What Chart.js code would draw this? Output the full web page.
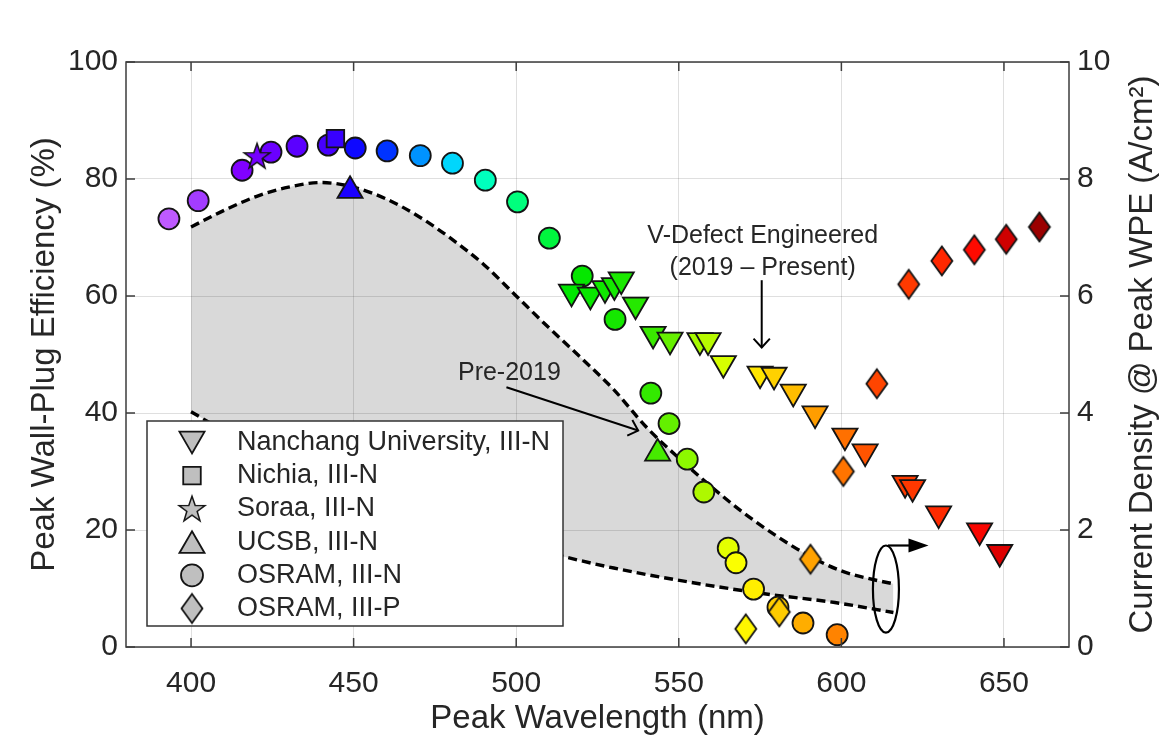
<!DOCTYPE html>
<html><head><meta charset="utf-8">
<script src="https://cdn.jsdelivr.net/npm/chart.js@4.4.1/dist/chart.umd.min.js"></script>
<style>html,body{margin:0;padding:0;background:#fff;}#wrap{width:1167px;height:736px;position:relative;}</style>
</head><body><div id="wrap"><canvas id="c"></canvas></div>
<script>
// ---------- data ----------
const xTicks = [400, 450, 500, 550, 600, 650];
const yLeftTicks = [0, 20, 40, 60, 80, 100];
const yRightTicks = [0, 2, 4, 6, 8, 10];

const seriesNames = ['Nanchang University, III-N', 'Nichia, III-N', 'Soraa, III-N', 'UCSB, III-N', 'OSRAM, III-N', 'OSRAM, III-P'];

const nanchangX = [517.0, 522.8, 527.3, 530.2, 532.3, 536.7, 542.1, 547.3, 556.5, 559.0, 563.7, 575.0, 579.3, 585.2, 591.9, 601.1, 607.3, 619.6, 621.9, 629.9, 642.5, 648.7];
const nanchangY = [60.7, 60.2, 61.3, 61.8, 62.8, 58.5, 53.5, 52.5, 52.4, 52.4, 48.5, 46.7, 46.5, 43.6, 39.9, 36.1, 33.4, 28.0, 27.3, 22.8, 19.9, 16.2];

const nichiaX = [444.4];
const nichiaY = [86.9];

const soraaX = [420.3];
const soraaY = [83.9];

const ucsbX = [448.9, 543.5];
const ucsbY = [78.0, 33.1];

const osramNX = [393.2, 402.2, 415.7, 424.6, 432.6, 442.2, 450.5, 460.3, 470.5, 480.4, 490.5, 500.4, 510.2, 520.3, 530.4, 541.4, 547.0, 552.6, 557.7, 565.2, 567.6, 573.0, 580.5, 588.2, 598.7];
const osramNY = [73.2, 76.3, 81.5, 84.6, 85.6, 85.8, 85.3, 84.8, 84.0, 82.7, 79.8, 76.1, 69.9, 63.4, 56.0, 43.4, 38.2, 32.1, 26.5, 16.9, 14.4, 9.9, 6.8, 4.1, 2.1];

const osramPX = [570.6, 580.9, 590.5, 600.6, 610.9, 620.7, 630.9, 640.9, 650.7, 660.9];
const osramPY = [3.1, 6.0, 15.0, 30.0, 45.0, 62.0, 66.0, 67.9, 69.7, 71.8];

// Pre-2019 band (left-axis units)
const upperX = [400, 410, 420, 430, 440, 450, 460, 470, 480, 490, 500, 510, 520, 530, 540, 550, 560, 570, 580, 590, 600, 610, 616];
const upperY = [71.8, 74.6, 77.0, 78.6, 79.4, 78.6, 76.6, 73.6, 69.8, 65.4, 60.0, 54.6, 49.4, 44.0, 37.6, 32.3, 27.4, 22.9, 19.0, 15.6, 13.0, 11.5, 10.8];
const lowerX = [400, 410, 420, 440, 460, 480, 500, 515, 530, 549, 575, 598, 616];
const lowerY = [40.2, 37.0, 34.0, 28.8, 24.5, 20.8, 17.6, 15.4, 13.5, 11.5, 9.2, 7.6, 5.9];

// annotations (data coordinates)
const ellipseCenter = [613.7, 9.9];
const ellipseRadii = [4.0, 7.45];
const ellipseArrowEndX = 626.8;
const vDefectText = ['V-Defect Engineered', '(2019 \u2013 Present)'];
const vDefectTextPos = [[575.8, 69.0], [575.8, 63.6]];
const vDefectArrow = [[575.5, 62.7], [575.5, 51.2]];
const preText = 'Pre-2019';
const preTextPos = [497.9, 45.6];
const preArrow = [[497.0, 44.4], [537.5, 37.0]];

// ---------- style ----------
const FONT = '"Liberation Sans", Arial, Helvetica, sans-serif';
const TXT = '#262626';
const AX = '#3d3d3d';
const EDGE = '#141414';
const LEGEND_FILL = '#bfbfbf';
const MBW = 1.8;

const colorStops = [
  [390, [200, 100, 255]], [402, [163, 61, 255]], [416, [128, 0, 255]], [425, [106, 0, 255]],
  [433, [90, 0, 255]], [442, [72, 0, 255]], [449, [26, 0, 255]], [451, [10, 10, 255]],
  [460, [0, 48, 255]], [470, [0, 144, 255]], [480, [0, 212, 255]], [490, [0, 255, 192]],
  [500, [0, 255, 128]], [510, [0, 245, 64]], [517, [0, 230, 0]], [530, [20, 232, 0]],
  [541, [48, 232, 0]], [547, [100, 240, 0]], [553, [144, 250, 0]], [558, [176, 248, 0]],
  [564, [216, 255, 0]], [568, [255, 255, 0]], [573, [255, 238, 0]], [579, [255, 210, 0]],
  [585, [255, 190, 0]], [590, [255, 164, 0]], [599, [255, 130, 0]], [601, [255, 112, 0]],
  [607, [255, 85, 0]], [611, [255, 69, 0]], [621, [255, 58, 0]], [631, [255, 40, 0]],
  [641, [255, 10, 0]], [645, [240, 0, 0]], [649, [221, 0, 0]], [651, [204, 0, 0]], [661, [153, 0, 0]]
];
function wlColor(w) {
  if (w <= colorStops[0][0]) return 'rgb(' + colorStops[0][1].join(',') + ')';
  for (let i = 1; i < colorStops.length; i++) {
    if (w <= colorStops[i][0]) {
      const [w0, c0] = colorStops[i - 1], [w1, c1] = colorStops[i];
      const t = (w - w0) / (w1 - w0);
      return 'rgb(' + c0.map((v, k) => Math.round(v + (c1[k] - v) * t)).join(',') + ')';
    }
  }
  return 'rgb(' + colorStops[colorStops.length - 1][1].join(',') + ')';
}

const imgCache = {};
function mkCanvas(w, h) { const c = document.createElement('canvas'); c.width = w; c.height = h; return c; }
function diamondImg(color) {
  const k = 'd' + color; if (imgCache[k]) return imgCache[k];
  const c = mkCanvas(26, 34), g = c.getContext('2d');
  g.beginPath(); g.moveTo(13, 2.5); g.lineTo(23.5, 17); g.lineTo(13, 31.5); g.lineTo(2.5, 17); g.closePath();
  g.fillStyle = color; g.fill(); g.lineWidth = MBW; g.strokeStyle = EDGE; g.lineJoin = 'miter'; g.stroke();
  return imgCache[k] = c;
}
function starImg(color) {
  const k = 's' + color; if (imgCache[k]) return imgCache[k];
  const c = mkCanvas(32, 32), g = c.getContext('2d');
  const cx = 16, cy = 16.8, R = 13.6, r = R * 0.40;
  g.beginPath();
  for (let i = 0; i < 10; i++) {
    const a = -Math.PI / 2 + i * Math.PI / 5, rr = i % 2 ? r : R;
    const px = cx + rr * Math.cos(a), py = cy + rr * Math.sin(a);
    if (i) g.lineTo(px, py); else g.moveTo(px, py);
  }
  g.closePath(); g.fillStyle = color; g.fill(); g.lineWidth = 1.5; g.strokeStyle = EDGE; g.stroke();
  return imgCache[k] = c;
}

const pts = (xs, ys) => xs.map((x, i) => ({ x: x, y: ys[i] }));
const colorOf = c => (c.raw ? wlColor(c.raw.x) : '#888');

const markerBase = { showLine: false, pointBorderWidth: MBW, pointBorderColor: EDGE, pointBackgroundColor: colorOf, borderColor: EDGE, backgroundColor: colorOf };

// ---------- overlay plugin ----------
function arrowOpen(ctx, x0, y0, x1, y1, len, ang) {
  ctx.beginPath(); ctx.moveTo(x0, y0); ctx.lineTo(x1, y1); ctx.stroke();
  const t = Math.atan2(y1 - y0, x1 - x0);
  ctx.beginPath();
  ctx.moveTo(x1 - len * Math.cos(t - ang), y1 - len * Math.sin(t - ang));
  ctx.lineTo(x1, y1);
  ctx.lineTo(x1 - len * Math.cos(t + ang), y1 - len * Math.sin(t + ang));
  ctx.stroke();
}

const legendStyles = [
  { pointStyle: 'triangle', rotation: 180, radius: 14.5 },
  { pointStyle: 'rect', rotation: 0, radius: 12.4 },
  { img: starImg },
  { pointStyle: 'triangle', rotation: 0, radius: 14.5 },
  { pointStyle: 'circle', rotation: 0, radius: 11 },
  { img: diamondImg }
];

const overlay = {
  id: 'overlay',
  afterDatasetsDraw(chart) {
    const { ctx, chartArea: a, scales } = chart;
    const x = scales.x, y = scales.y, y2 = scales.y2;
    ctx.save();
    // axes box and inward ticks
    ctx.strokeStyle = AX; ctx.lineWidth = 1.5;
    ctx.strokeRect(a.left, a.top, a.right - a.left, a.bottom - a.top);
    const TL = 9;
    ctx.beginPath();
    xTicks.forEach(v => { const p = x.getPixelForValue(v); ctx.moveTo(p, a.bottom); ctx.lineTo(p, a.bottom - TL); ctx.moveTo(p, a.top); ctx.lineTo(p, a.top + TL); });
    yLeftTicks.forEach(v => { const p = y.getPixelForValue(v); ctx.moveTo(a.left, p); ctx.lineTo(a.left + TL, p); });
    yRightTicks.forEach(v => { const p = y2.getPixelForValue(v); ctx.moveTo(a.right, p); ctx.lineTo(a.right - TL, p); });
    ctx.stroke();

    // ellipse + arrow to right axis
    ctx.strokeStyle = '#000'; ctx.fillStyle = '#000'; ctx.lineWidth = 2.2;
    const ecx = x.getPixelForValue(ellipseCenter[0]), ecy = y.getPixelForValue(ellipseCenter[1]);
    const erx = x.getPixelForValue(ellipseCenter[0] + ellipseRadii[0]) - ecx;
    const ery = ecy - y.getPixelForValue(ellipseCenter[1] + ellipseRadii[1]);
    ctx.beginPath(); ctx.ellipse(ecx, ecy, erx, ery, 0, 0, Math.PI * 2); ctx.stroke();
    const ay = ecy - ery, ax1 = x.getPixelForValue(ellipseArrowEndX);
    ctx.beginPath(); ctx.moveTo(ecx + 2, ay); ctx.lineTo(ax1 - 15, ay); ctx.stroke();
    ctx.beginPath(); ctx.moveTo(ax1, ay); ctx.lineTo(ax1 - 20, ay - 7); ctx.lineTo(ax1 - 20, ay + 7); ctx.closePath(); ctx.fill();

    // arrows
    ctx.lineWidth = 2;
    arrowOpen(ctx, x.getPixelForValue(vDefectArrow[0][0]), y.getPixelForValue(vDefectArrow[0][1]),
      x.getPixelForValue(vDefectArrow[1][0]), y.getPixelForValue(vDefectArrow[1][1]), 12, Math.PI / 4.2);
    arrowOpen(ctx, x.getPixelForValue(preArrow[0][0]), y.getPixelForValue(preArrow[0][1]),
      x.getPixelForValue(preArrow[1][0]), y.getPixelForValue(preArrow[1][1]), 12, Math.PI / 4.2);

    // annotation text
    ctx.fillStyle = TXT; ctx.font = '25px ' + FONT; ctx.textAlign = 'center'; ctx.textBaseline = 'alphabetic';
    vDefectText.forEach((t, i) => ctx.fillText(t, x.getPixelForValue(vDefectTextPos[i][0]), y.getPixelForValue(vDefectTextPos[i][1])));
    ctx.fillText(preText, x.getPixelForValue(preTextPos[0]), y.getPixelForValue(preTextPos[1]));

    // legend box
    const L = a.left + 21, T = a.top + 359, W = 416, H = 205;
    ctx.fillStyle = '#fff'; ctx.fillRect(L, T, W, H);
    ctx.strokeStyle = '#333'; ctx.lineWidth = 1.5; ctx.strokeRect(L, T, W, H);
    const rowH = 33.2, r0 = T + 21.5, mx = L + 45, tx = L + 90;
    ctx.font = '27px ' + FONT; ctx.textAlign = 'left'; ctx.textBaseline = 'middle';
    seriesNames.forEach((name, i) => {
      const cy = r0 + i * rowH, st = legendStyles[i];
      if (st.img) {
        const im = st.img(LEGEND_FILL);
        ctx.drawImage(im, mx - im.width / 2, cy - im.height / 2);
      } else {
        const ry = st.pointStyle === 'triangle' ? (st.rotation ? cy - 3.6 : cy + 3.6) : cy;
        ctx.fillStyle = LEGEND_FILL; ctx.strokeStyle = EDGE; ctx.lineWidth = MBW;
        Chart.helpers.drawPoint(ctx, { pointStyle: st.pointStyle, rotation: st.rotation, radius: st.radius, borderWidth: MBW }, mx, ry);
      }
      ctx.fillStyle = TXT;
      ctx.fillText(name, tx, cy);
    });

    // right axis title (reads bottom to top)
    ctx.save();
    ctx.translate(1143, (a.top + a.bottom) / 2);
    ctx.rotate(-Math.PI / 2);
    ctx.font = '33px ' + FONT; ctx.textAlign = 'center'; ctx.textBaseline = 'middle'; ctx.fillStyle = TXT;
    ctx.fillText('Current Density @ Peak WPE (A/cm\u00B2)', 0, 0);
    ctx.restore();
    ctx.restore();
  }
};

// ---------- chart ----------
new Chart(document.getElementById('c'), {
  type: 'line',
  data: {
    datasets: [
      Object.assign({ label: seriesNames[0], data: pts(nanchangX, nanchangY), pointStyle: 'triangle', pointRotation: 180, pointRadius: 14.5, order: 3 }, markerBase),
      Object.assign({ label: seriesNames[1], data: pts(nichiaX, nichiaY), pointStyle: 'rect', pointRadius: 12.4, order: 1 }, markerBase),
      Object.assign({ label: seriesNames[2], data: pts(soraaX, soraaY), pointStyle: c => starImg(colorOf(c)), pointRadius: 14, order: 0 }, markerBase),
      Object.assign({ label: seriesNames[3], data: pts(ucsbX, ucsbY), pointStyle: 'triangle', pointRotation: 0, pointRadius: 14.5, order: 2 }, markerBase),
      Object.assign({ label: seriesNames[4], data: pts(osramNX, osramNY), pointStyle: 'circle', pointRadius: 10.5, order: 5 }, markerBase),
      Object.assign({ label: seriesNames[5], data: pts(osramPX, osramPY), pointStyle: c => diamondImg(colorOf(c)), pointRadius: 14, order: 4 }, markerBase),
      { label: 'Pre-2019 upper', data: pts(upperX, upperY), showLine: true, pointRadius: 0, borderColor: '#000', borderWidth: 3.4, borderDash: [9, 5], cubicInterpolationMode: 'monotone', fill: 7, backgroundColor: 'rgba(0,0,0,0.15)', order: 6 },
      { label: 'Pre-2019 lower', data: pts(lowerX, lowerY), showLine: true, pointRadius: 0, borderColor: '#000', borderWidth: 3.4, borderDash: [9, 5], cubicInterpolationMode: 'monotone', fill: false, order: 7 }
    ]
  },
  options: {
    responsive: true, maintainAspectRatio: false, animation: false, events: [],
    layout: { padding: { top: 62, left: 0, right: 0, bottom: 0 } },
    plugins: { legend: { display: false }, tooltip: { enabled: false } },
    scales: {
      x: {
        type: 'linear', position: 'bottom', min: 380, max: 670,
        afterBuildTicks: s => { s.ticks = xTicks.map(v => ({ value: v })); },
        afterFit: s => { s.height = 89; },
        grid: { color: 'rgba(38,38,38,0.15)', lineWidth: 1, drawTicks: false },
        border: { display: false },
        ticks: { font: { family: FONT, size: 30 }, color: TXT, padding: 19, maxRotation: 0, autoSkip: false },
        title: { display: true, text: 'Peak Wavelength (nm)', font: { family: FONT, size: 33, lineHeight: 1.05 }, color: TXT, padding: { top: 0, bottom: 0 } }
      },
      y: {
        type: 'linear', position: 'left', min: 0, max: 100,
        afterBuildTicks: s => { s.ticks = yLeftTicks.map(v => ({ value: v })); },
        afterFit: s => { s.width = 126; },
        grid: { color: 'rgba(38,38,38,0.15)', lineWidth: 1, drawTicks: false },
        border: { display: false },
        ticks: { font: { family: FONT, size: 30 }, color: TXT, padding: 8 },
        title: { display: true, text: 'Peak Wall-Plug Efficiency (%)', font: { family: FONT, size: 33, lineHeight: 1.2 }, color: TXT, padding: { top: 25, bottom: 0 } }
      },
      y2: {
        type: 'linear', position: 'right', min: 0, max: 10,
        afterBuildTicks: s => { s.ticks = yRightTicks.map(v => ({ value: v })); },
        afterFit: s => { s.width = 98; },
        grid: { display: false, drawTicks: false },
        border: { display: false },
        ticks: { font: { family: FONT, size: 30 }, color: TXT, padding: 8 }
      }
    }
  },
  plugins: [overlay]
});
</script>
</body></html>
